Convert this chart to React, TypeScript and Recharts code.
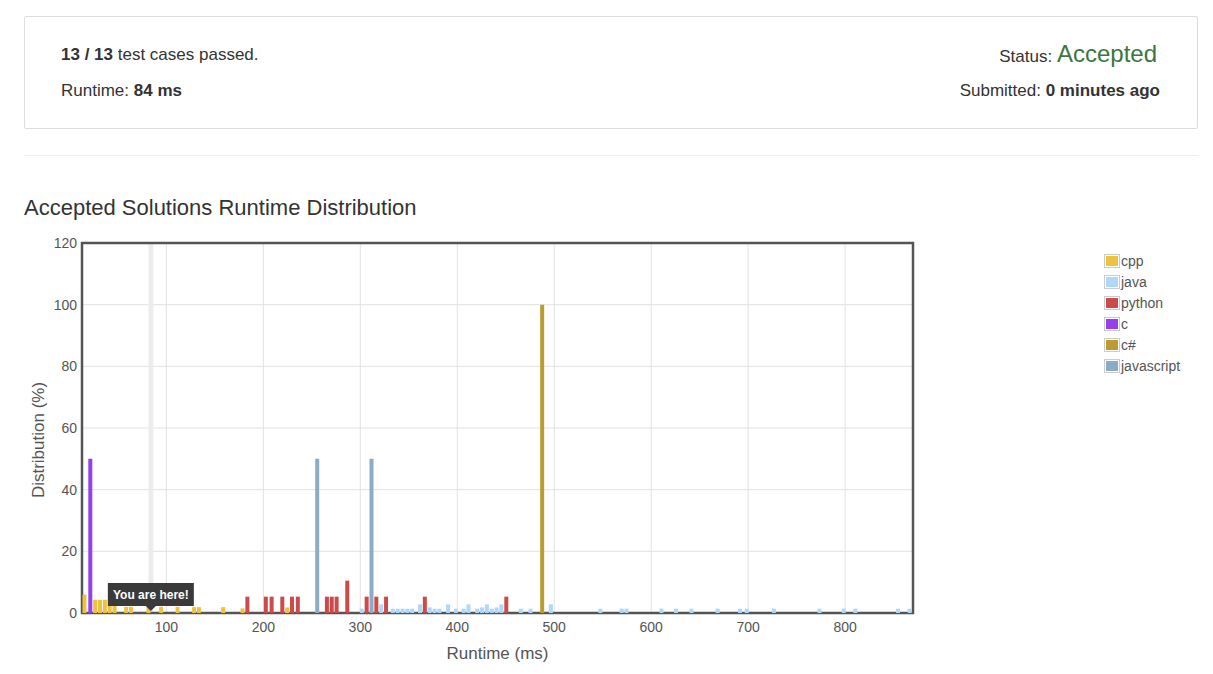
import { BarChart, Bar, XAxis, YAxis, CartesianGrid, ReferenceArea, ReferenceLine, Label } from 'recharts';

// runtime (ms) -> share of accepted solutions (%) per language
const cppRuntime = [16, 27, 32, 37, 42, 47, 59, 64, 82, 95, 112, 129, 134, 159, 179, 225];
const cppShare = [6, 4.3, 4.3, 4.3, 4.3, 4.3, 2, 2, 2, 2, 2, 1.9, 1.9, 1.9, 1.5, 1.8];

const javaRuntime = [
  302, 322, 334, 339, 344, 349, 354, 362, 372, 377, 382, 391, 399, 407, 412, 421, 426, 431, 436, 441, 446,
  466, 476, 497, 548, 570, 575, 611, 626, 642, 669, 692, 699, 727, 774, 799, 811, 855, 867,
];
const javaShare = [
  1.4, 2.8, 1.4, 1.4, 1.4, 1.4, 1.4, 2.8, 1.8, 1.4, 1.4, 2.8, 1.4, 1.4, 2.8, 1.4, 1.8, 2.8, 1.4, 1.8, 2.8,
  1.4, 1.4, 2.8, 1.4, 1.4, 1.4, 1.4, 1.4, 1.4, 1.4, 1.4, 1.4, 1.4, 1.4, 1.4, 1.4, 1.4, 1.4,
];

const pythonRuntime = [184, 203, 209, 220, 230, 236, 266, 271, 276, 287, 307, 317, 327, 367, 451];
const pythonShare = [5.3, 5.3, 5.3, 5.3, 5.3, 5.3, 5.3, 5.3, 5.3, 10.5, 5.3, 5.3, 5.3, 5.3, 5.3];

const cRuntime = [22];
const cShare = [50];

const csharpRuntime = [488];
const csharpShare = [100];

const jsRuntime = [256, 312];
const jsShare = [50, 50];

const xTicks = [100, 200, 300, 400, 500, 600, 700, 800];
const yTicks = [0, 20, 40, 60, 80, 100, 120];
const myRuntime = 84;

const series = [
  { key: 'cpp', name: 'cpp', color: '#edc240', runtime: cppRuntime, share: cppShare },
  { key: 'java', name: 'java', color: '#afd8f8', runtime: javaRuntime, share: javaShare },
  { key: 'python', name: 'python', color: '#cb4b4b', runtime: pythonRuntime, share: pythonShare },
  { key: 'c', name: 'c', color: '#9440ed', runtime: cRuntime, share: cShare },
  { key: 'csharp', name: 'c#', color: '#bd9b33', runtime: csharpRuntime, share: csharpShare },
  { key: 'javascript', name: 'javascript', color: '#8cacc6', runtime: jsRuntime, share: jsShare },
];

const rows = new Map<number, Record<string, number>>();
series.forEach((s) => {
  s.runtime.forEach((r, i) => {
    const row = rows.get(r) ?? { runtime: r };
    row[s.key] = s.share[i];
    rows.set(r, row);
  });
});
const chartData = [...rows.values()].sort((a, b) => a.runtime - b.runtime);

const FONT = '"Liberation Sans", Arial, Helvetica, sans-serif';

const YouAreHere = (props: any) => {
  const vb = props.viewBox || {};
  const x = (vb.x ?? 150) + (vb.width ?? 0) / 2;
  const bottom = (vb.y ?? 243) + (vb.height ?? 370);
  return (
    <g>
      <rect x={x - 43} y={bottom - 30} width={86} height={23} fill="#3a3a3a" />
      <path d={`M${x - 5},${bottom - 7} L${x + 5},${bottom - 7} L${x},${bottom - 2} Z`} fill="#3a3a3a" />
      <text x={x} y={bottom - 18} textAnchor="middle" dominantBaseline="central" fill="#fff" fontSize={12} fontWeight="bold" fontFamily={FONT}>
        You are here!
      </text>
    </g>
  );
};

const YTitle = (props: any) => {
  const vb = props.viewBox || {};
  const x = (vb.x ?? 32) + 6;
  const y = (vb.y ?? 13) + (vb.height ?? 370) / 2 + 12;
  return (
    <text x={x} y={y} transform={`rotate(-90, ${x}, ${y})`} textAnchor="middle" dominantBaseline="central" fill="#545454" fontSize={17} fontFamily={FONT}>
      Distribution (%)
    </text>
  );
};

const RuntimeChart = () => (
  <BarChart
    width={1213}
    height={444}
    data={chartData}
    margin={{ top: 13, right: 300, bottom: 31, left: 32 }}
    barSize={4}
  >
    <CartesianGrid stroke="#e2e2e2" />
    <XAxis
      dataKey="runtime"
      type="number"
      domain={[13, 870]}
      ticks={xTicks}
      allowDataOverflow
      height={30}
      tickLine={false}
      axisLine={false}
      tickSize={0}
      tickMargin={9}
      tick={{ fontSize: 14, fill: '#545454', fontFamily: FONT }}
    >
      <Label value="Runtime (ms)" position="bottom" offset={4} fill="#545454" fontSize={17} fontFamily={FONT} />
    </XAxis>
    <YAxis
      type="number"
      domain={[0, 120]}
      ticks={yTicks}
      width={50}
      tickLine={false}
      axisLine={false}
      tickSize={0}
      tickMargin={5}
      tick={{ fontSize: 14, fill: '#545454', fontFamily: FONT }}
    >
      <Label content={YTitle} />
    </YAxis>
    <ReferenceArea x1={myRuntime - 2.5} x2={myRuntime + 2.5} y1={0} y2={120} fill="#ececec" fillOpacity={1} stroke="none" />
    {series.map((s) => (
      <Bar key={s.key} dataKey={s.key} name={s.name} stackId="share" fill={s.color} isAnimationActive={false} />
    ))}
    <ReferenceArea x1={13} x2={870} y1={0} y2={120} fill="none" fillOpacity={0} stroke="#545454" strokeWidth={2.5} />
    <ReferenceLine x={myRuntime} stroke="#ececec" strokeOpacity={0} label={YouAreHere} />
  </BarChart>
);

const LegendBox = () => (
  <div style={{ position: 'absolute', left: 1104, top: 250, fontFamily: FONT, fontSize: 14, color: '#545454' }}>
    {series.map((s) => (
      <div key={s.key} style={{ display: 'flex', alignItems: 'center', height: 21 }}>
        <div style={{ border: '1px solid #ccc', padding: 1, marginRight: 1 }}>
          <div style={{ width: 12, height: 10, background: s.color }} />
        </div>
        <span>{s.name}</span>
      </div>
    ))}
  </div>
);

export default function App() {
  return (
    <div style={{ position: 'absolute', left: 0, top: 0, width: 1213, height: 674, background: '#fff', fontFamily: FONT, color: '#333' }}>
      <div style={{ position: 'absolute', left: 24, top: 16, width: 1172, height: 111, border: '1px solid #ddd', borderRadius: 2 }} />
      <div style={{ position: 'absolute', left: 61, top: 45, fontSize: 17, lineHeight: '20px' }}>
        <b>13 / 13</b> test cases passed.
      </div>
      <div style={{ position: 'absolute', left: 61, top: 81, fontSize: 17, lineHeight: '20px' }}>
        Runtime: <b>84 ms</b>
      </div>
      <div style={{ position: 'absolute', right: 56, top: 40, fontSize: 17, lineHeight: '28px', whiteSpace: 'nowrap' }}>
        Status: <span style={{ fontSize: 24, color: '#3c763d' }}>Accepted</span>
      </div>
      <div style={{ position: 'absolute', right: 53, top: 81, fontSize: 17, lineHeight: '20px', whiteSpace: 'nowrap' }}>
        Submitted: <b>0 minutes ago</b>
      </div>
      <div style={{ position: 'absolute', left: 24, top: 155, width: 1174, height: 1, background: '#eee' }} />
      <div style={{ position: 'absolute', left: 24, top: 195, fontSize: 22, lineHeight: '26px' }}>
        Accepted Solutions Runtime Distribution
      </div>
      <div style={{ position: 'absolute', left: 0, top: 230 }}>
        <RuntimeChart />
      </div>
      <LegendBox />
    </div>
  );
}
